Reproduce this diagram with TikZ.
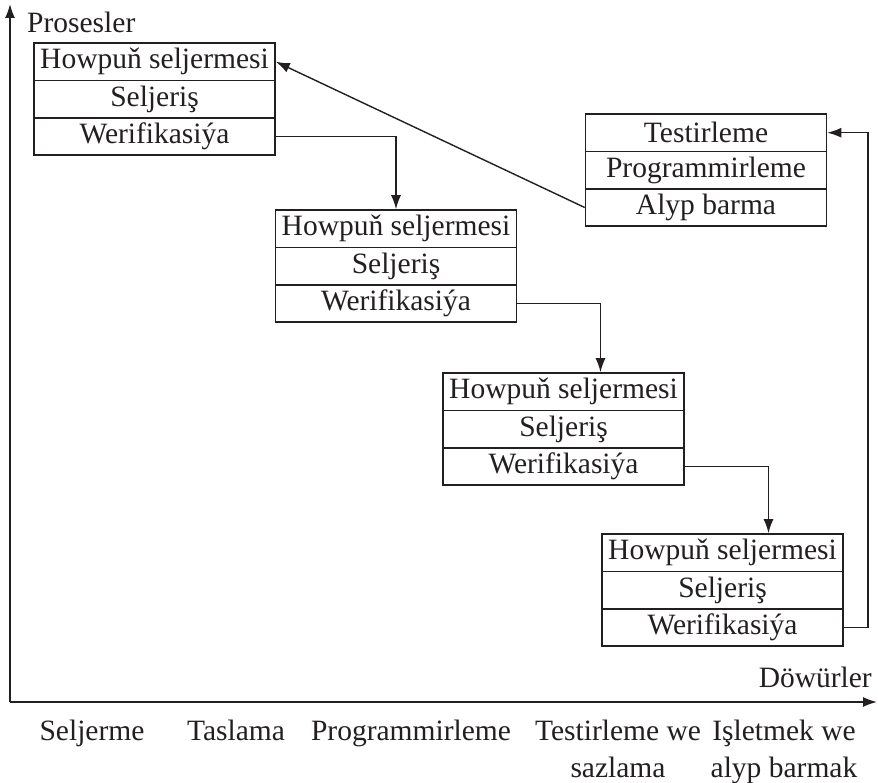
\documentclass[tikz,border=0pt]{standalone}
\usepackage{fontspec}
\setmainfont{Liberation Serif}
\usetikzlibrary{arrows.meta}
\definecolor{ink}{HTML}{231F20}
\tikzset{
  row/.style={draw=ink, line width=1.6pt, rectangle, minimum width=241pt, minimum height=37.4pt, inner sep=0pt, text=ink, font=\fontsize{29.5}{36}\selectfont},
  lab/.style={text=ink, inner sep=0pt, font=\fontsize{29.5}{37}\selectfont},
  conn/.style={draw=ink, line width=1.4pt, -{Latex[length=14pt,width=10pt]}},
  axis/.style={draw=ink, line width=1.6pt, -{Latex[length=14pt,width=10pt]}}
}
\begin{document}
\begin{tikzpicture}[x=1pt,y=-1pt]
\useasboundingbox (0,0) rectangle (878,783);
% axes
\coordinate (O) at (10,702);
\coordinate (Ytop) at (10,4);
\coordinate (Xend) at (877,702);
\draw[axis] (O) -- (Ytop);
\draw[axis] (O) -- (Xend);
\node[lab, anchor=base west] (prosesler) at (27,33) {Prosesler};
\node[lab, anchor=base east] (dowurler) at (872,687) {Döwürler};
% bottom labels
\node[lab, anchor=base] (l1) at (92,740) {Seljerme};
\node[lab, anchor=base] (l2) at (236,740) {Taslama};
\node[lab, anchor=base] (l3) at (411,740) {Programmirleme};
\node[lab, anchor=north, align=center] (l4) at (618,719.5) {Testirleme we\\ sazlama};
\node[lab, anchor=north, align=center] (l5) at (784,719.5) {Işletmek we\\ alyp barmak};
% box 1
\node[row] (a1) at (154.5,61.7) {Howpuň seljermesi};
\node[row] (a2) at (154.5,99.1) {Seljeriş};
\node[row] (a3) at (154.5,136.5) {Werifikasiýa};
% box 2
\node[row] (b1) at (396,228.7) {Howpuň seljermesi};
\node[row] (b2) at (396,266.1) {Seljeriş};
\node[row] (b3) at (396,303.5) {Werifikasiýa};
% box 3
\node[row] (c1) at (563.5,391.7) {Howpuň seljermesi};
\node[row] (c2) at (563.5,429.1) {Seljeriş};
\node[row] (c3) at (563.5,466.5) {Werifikasiýa};
% box 4
\node[row] (d1) at (722.5,552.7) {Howpuň seljermesi};
\node[row] (d2) at (722.5,590.1) {Seljeriş};
\node[row] (d3) at (722.5,627.5) {Werifikasiýa};
% top-right box
\node[row] (t1) at (706,132.7) {Testirleme};
\node[row] (t2) at (706,170.1) {Programmirleme};
\node[row] (t3) at (706,207.5) {Alyp barma};
% connectors
\draw[conn] (a3.east) -| (b1.north);
\draw[conn] (b3.east) -| ([xshift=37pt]c1.north);
\draw[conn] (c3.east) -| ([xshift=46pt]d1.north);
\coordinate (r) at (868,627.5);
\draw[conn] (d3.east) -- (r) |- (t1.east);
\draw[conn] (t3.west) -- (a1.east);
\end{tikzpicture}
\end{document}
